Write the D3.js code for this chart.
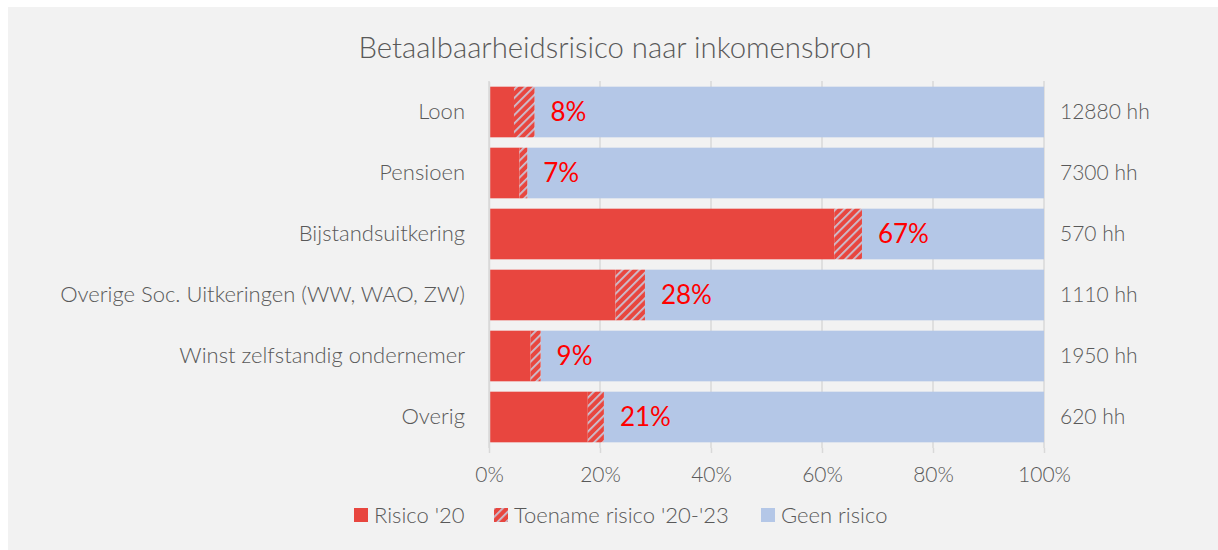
<!DOCTYPE html>
<html><head><meta charset="utf-8">
<script src="https://cdn.jsdelivr.net/npm/d3@7"></script>
<style>
html,body{margin:0;padding:0;background:#fff;}
svg{display:block;}
text{font-family:"Lato","Open Sans",sans-serif;}
</style></head>
<body>
<svg id="chart" width="1218" height="550"></svg>
<script>
const title = "Betaalbaarheidsrisico naar inkomensbron";
const categories = ["Loon","Pensioen","Bijstandsuitkering","Overige Soc. Uitkeringen (WW, WAO, ZW)","Winst zelfstandig ondernemer","Overig"];
const risico20 = [4.5, 5.5, 62.2, 22.8, 7.5, 17.8];
const toename = [3.7, 1.4, 5.0, 5.3, 1.8, 2.9];
const totalLabels = ["8%","7%","67%","28%","9%","21%"];
const households = ["12880 hh","7300 hh","570 hh","1110 hh","1950 hh","620 hh"];
const xTicks = [0,20,40,60,80,100];
const seriesNames = ["Risico '20","Toename risico '20-'23","Geen risico"];

const svg = d3.select("#chart");
const W = 1218, H = 550;
const red = "#e8463f", blue = "#b4c7e7", gray = "#595959";

// panel
svg.append("rect").attr("x",8).attr("y",7).attr("width",W-8).attr("height",H-7).attr("fill","#f2f2f2");

// hatch pattern
const defs = svg.append("defs");
const pat = defs.append("pattern").attr("id","hatch").attr("patternUnits","userSpaceOnUse")
  .attr("width",6).attr("height",6).attr("patternTransform","rotate(45)");
pat.append("rect").attr("width",6).attr("height",6).attr("fill",red);
pat.append("rect").attr("x",0).attr("width",1.8).attr("height",6).attr("fill","#c9c3d3");

const x = d3.scaleLinear().domain([0,100]).range([489,1044]);
const y = d3.scaleBand().domain(categories).range([81.5,447.5]).paddingInner(0.17).paddingOuter(0.085);

// title
svg.append("text").attr("x",615).attr("y",58).attr("text-anchor","middle")
  .attr("font-size",29.3).attr("font-weight",300).attr("fill",gray).text(title);

// gridlines
svg.append("g").selectAll("line").data(xTicks).join("line")
  .attr("x1",d=>x(d)).attr("x2",d=>x(d)).attr("y1",81).attr("y2",448)
  .attr("stroke","#d9d9d9").attr("stroke-width",1.5);

// bars
const rows = categories.map((c,i)=>({c, a:risico20[i], b:toename[i], i}));
const g = svg.append("g");
g.selectAll(".blue").data(rows).join("rect").attr("class","blue")
  .attr("x",d=>x(d.a+d.b)).attr("width",d=>x(100)-x(d.a+d.b))
  .attr("y",d=>y(d.c)).attr("height",y.bandwidth()).attr("fill",blue);
g.selectAll(".red").data(rows).join("rect").attr("class","red")
  .attr("x",x(0)).attr("width",d=>x(d.a)-x(0))
  .attr("y",d=>y(d.c)).attr("height",y.bandwidth()).attr("fill",red);
g.selectAll(".hatch").data(rows).join("rect").attr("class","hatch")
  .attr("x",d=>x(d.a)).attr("width",d=>x(d.a+d.b)-x(d.a))
  .attr("y",d=>y(d.c)).attr("height",y.bandwidth()).attr("fill","url(#hatch)");

// total labels
g.selectAll(".tot").data(rows).join("text").attr("class","tot")
  .attr("x",d=>x(d.a+d.b)+16).attr("y",d=>y(d.c)+y.bandwidth()/2+9)
  .attr("font-size",26).attr("fill","#ff0000").text(d=>totalLabels[d.i]);

// category axis
const yAxis = svg.append("g").attr("transform",`translate(${x(0)},0)`)
  .call(d3.axisLeft(y).tickSize(0).tickPadding(24));
yAxis.select(".domain").attr("stroke","#d9d9d9").attr("stroke-width",1.5);
yAxis.selectAll("text").attr("font-size",22).attr("font-weight",300).attr("fill",gray).attr("font-family","Lato, sans-serif");

// household labels
svg.append("g").selectAll("text").data(categories).join("text")
  .attr("x",1060).attr("y",d=>y(d)+y.bandwidth()/2+7)
  .attr("font-size",21).attr("font-weight",300).attr("fill",gray).text((d,i)=>households[i]);

// x axis
const xAxis = svg.append("g").attr("transform","translate(0,448)")
  .call(d3.axisBottom(x).tickValues(xTicks).tickFormat(d=>d+"%").tickSize(5).tickPadding(14));
xAxis.select(".domain").remove();
xAxis.selectAll("line").attr("stroke","#d9d9d9").attr("stroke-width",1.5);
xAxis.selectAll("text").attr("font-size",21).attr("font-weight",300).attr("fill",gray).attr("font-family","Lato, sans-serif");

// legend
const legendX = [354, 494, 761];
const lg = svg.append("g");
const fills = [red, "url(#hatch)", blue];
seriesNames.forEach((n,i)=>{
  lg.append("rect").attr("x",legendX[i]).attr("y",508).attr("width",14).attr("height",14).attr("fill",fills[i]);
  lg.append("text").attr("x",legendX[i]+20).attr("y",523).attr("font-size",22).attr("font-weight",300).attr("fill",gray).text(n);
});
</script>
</body></html>
